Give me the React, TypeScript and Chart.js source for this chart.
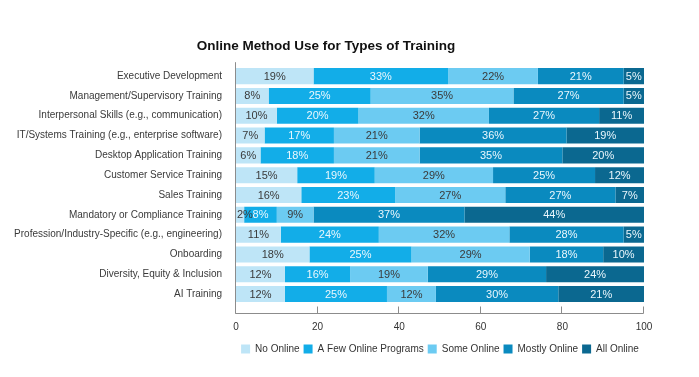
import React, { useEffect, useRef } from "react";
import { Chart, registerables } from "chart.js";

Chart.register(...registerables);

const categories = [
  "Executive Development",
  "Management/Supervisory Training",
  "Interpersonal Skills (e.g., communication)",
  "IT/Systems Training (e.g., enterprise software)",
  "Desktop Application Training",
  "Customer Service Training",
  "Sales Training",
  "Mandatory or Compliance Training",
  "Profession/Industry-Specific (e.g., engineering)",
  "Onboarding",
  "Diversity, Equity & Inclusion",
  "AI Training",
];

const seriesNames = ["No Online", "A Few Online Programs", "Some Online", "Mostly Online", "All Online"];
const noOnline = [19, 8, 10, 7, 6, 15, 16, 2, 11, 18, 12, 12];
const aFewOnline = [33, 25, 20, 17, 18, 19, 23, 8, 24, 25, 16, 25];
const someOnline = [22, 35, 32, 21, 21, 29, 27, 9, 32, 29, 19, 12];
const mostlyOnline = [21, 27, 27, 36, 35, 25, 27, 37, 28, 18, 29, 30];
const allOnline = [5, 5, 11, 19, 20, 12, 7, 44, 5, 10, 24, 21];
const xTicks = [0, 20, 40, 60, 80, 100];

const seriesValues = [noOnline, aFewOnline, someOnline, mostlyOnline, allOnline];
const seriesColors = ["#bee5f7", "#12ade8", "#6ccbf2", "#0a8abf", "#0b6890"];
const labelColors = ["#3a3a3a", "#eaf7fd", "#3a3a3a", "#eaf7fd", "#eaf7fd"];

const FONT = '"Liberation Sans", Arial, Helvetica, sans-serif';

const segLabels = {
  id: "segLabels",
  afterDatasetsDraw(chart: any) {
    const { ctx, chartArea } = chart;
    ctx.save();
    ctx.font = `11px ${FONT}`;
    ctx.textAlign = "center";
    ctx.textBaseline = "middle";
    chart.data.datasets.forEach((ds: any, di: number) => {
      const meta = chart.getDatasetMeta(di);
      meta.data.forEach((el: any, i: number) => {
        const v = ds.data[i];
        const { x, base, y } = el.getProps(["x", "base", "y"], true);
        const text = `${v}%`;
        const w = ctx.measureText(text).width;
        let cx = (x + base) / 2;
        if (cx - w / 2 < chartArea.left + 1) cx = chartArea.left + 1 + w / 2;
        ctx.fillStyle = labelColors[di];
        ctx.fillText(text, cx, y + 0.5);
      });
    });
    ctx.restore();
  },
};

const axisLines = {
  id: "axisLines",
  afterDatasetsDraw(chart: any) {
    const { ctx, chartArea } = chart;
    const xs = chart.scales.x;
    const yb = Math.round(chartArea.bottom + 9) + 0.5;
    const x0 = Math.round(xs.getPixelForValue(xTicks[0])) - 0.5;
    const x1 = Math.round(xs.getPixelForValue(xTicks[xTicks.length - 1])) - 0.5;
    ctx.save();
    ctx.strokeStyle = "#8c8c8c";
    ctx.lineWidth = 1;
    ctx.beginPath();
    ctx.moveTo(x0, chartArea.top - 4);
    ctx.lineTo(x0, yb);
    ctx.lineTo(x1, yb);
    xTicks.forEach((t) => {
      const px = Math.round(xs.getPixelForValue(t)) - 0.5;
      ctx.moveTo(px, yb);
      ctx.lineTo(px, yb - 7);
    });
    ctx.stroke();
    ctx.restore();
  },
};

export default function App() {
  const ref = useRef<HTMLCanvasElement | null>(null);

  useEffect(() => {
    if (!ref.current) return;
    Chart.defaults.font.family = FONT;
    const chart = new Chart(ref.current, {
      type: "bar",
      data: {
        labels: categories,
        datasets: seriesNames.map((name, i) => ({
          label: name,
          data: seriesValues[i],
          backgroundColor: seriesColors[i],
          borderWidth: 0,
          barPercentage: 0.81,
          categoryPercentage: 1,
        })),
      },
      options: {
        indexAxis: "y",
        responsive: false,
        animation: false,
        layout: { padding: { left: 0, right: 47, top: 0, bottom: 5 } },
        scales: {
          x: {
            stacked: true,
            min: 0,
            max: 100,
            afterBuildTicks: (s: any) => {
              s.ticks = xTicks.map((v) => ({ value: v }));
            },
            afterFit: (s: any) => {
              s.height = 36;
            },
            grid: { display: false, drawTicks: false },
            border: { display: false },
            ticks: {
              padding: 9,
              color: "#333",
              font: { size: 10, lineHeight: 2.8 },
              maxRotation: 0,
            },
          },
          y: {
            stacked: true,
            afterFit: (s: any) => {
              s.width = 228;
            },
            grid: { display: false, drawTicks: false },
            border: { display: false },
            ticks: {
              padding: 14,
              color: "#3a3a3a",
              font: { size: 10 },
              autoSkip: false,
            },
          },
        },
        plugins: {
          title: {
            display: true,
            text: "Online Method Use for Types of Training",
            color: "#111",
            font: { size: 13.5, weight: "bold" },
            padding: { top: 30, bottom: 12 },
          },
          legend: {
            position: "bottom",
            fullSize: false,
            labels: {
              boxWidth: 9,
              boxHeight: 9,
              padding: 4,
              color: "#333",
              font: { size: 10 },
            },
          },
          tooltip: { enabled: false },
        },
      },
      plugins: [axisLines, segLabels],
    } as any);
    return () => chart.destroy();
  }, []);

  return (
    <div style={{ width: 683, height: 361 }}>
      <canvas ref={ref} width={683} height={361} style={{ display: "block" }} />
    </div>
  );
}
